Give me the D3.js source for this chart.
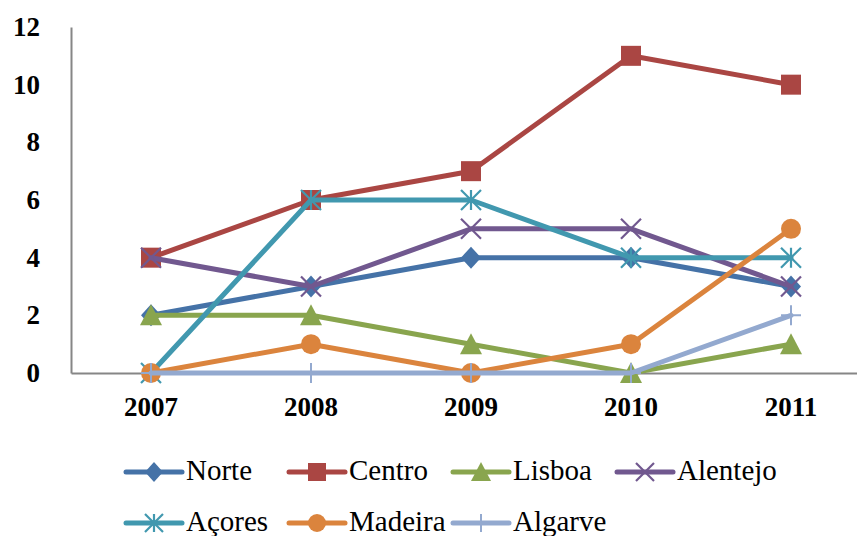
<!DOCTYPE html>
<html><head><meta charset="utf-8">
<script src="https://cdn.jsdelivr.net/npm/d3@7"></script>
<style>body{margin:0;background:#fff}svg{display:block}</style>
</head><body>
<svg id="c" width="857" height="536"></svg>
<script>
const years = ["2007","2008","2009","2010","2011"];
const seriesNames = ["Norte","Centro","Lisboa","Alentejo","Açores","Madeira","Algarve"];
const norte    = [2,3,4,4,3];
const centro   = [4,6,7,11,10];
const lisboa   = [2,2,1,0,1];
const alentejo = [4,3,5,5,3];
const acores   = [0,6,6,4,4];
const madeira  = [0,1,0,1,5];
const algarve  = [0,0,0,0,2];
const yTicks = [0,2,4,6,8,10,12];
const colors = ["#4572A7","#AA4643","#89A54E","#71588F","#4198AF","#DB843D","#93A9CF"];
const markers = ["diamond","square","triangle","x","asterisk","circle","plus"];

const series = [norte,centro,lisboa,alentejo,acores,madeira,algarve].map((v,i)=>({name:seriesNames[i],values:v,color:colors[i],marker:markers[i]}));

const FONT = "'Liberation Serif', 'Times New Roman', 'DejaVu Serif', serif";
const svg = d3.select("#c");
const mLeft = 71, mRight = 871, mTop = 27, mBottom = 373;
const x = d3.scaleBand().domain(years).range([mLeft,mRight]);
const y = d3.scaleLinear().domain([0,12]).range([mBottom,mTop]);
const cx = d => x(d) + x.bandwidth()/2;

// axes
const yAxis = svg.append("g").attr("transform",`translate(${mLeft},0)`).call(d3.axisLeft(y).tickValues(yTicks).tickSize(0).tickPadding(31));
yAxis.select(".domain").attr("stroke","#868686").attr("stroke-width",2);
yAxis.selectAll("text").attr("font-family",FONT).attr("font-weight","bold").attr("font-size",27).attr("fill","#000");

const xAxis = svg.append("g").attr("transform",`translate(0,${mBottom})`).call(d3.axisBottom(x).tickSize(0).tickPadding(24));
xAxis.select(".domain").attr("stroke","#868686").attr("stroke-width",2);
xAxis.selectAll("text").attr("font-family",FONT).attr("font-weight","bold").attr("font-size",27).attr("fill","#000");

function drawMarker(g, type, color, px, py, s){
  const h = s/2;
  if(type==="diamond"){
    g.append("path").attr("d",`M${px},${py-h-1}L${px+h},${py}L${px},${py+h+1}L${px-h},${py}Z`).attr("fill",color);
  } else if(type==="square"){
    g.append("rect").attr("x",px-h).attr("y",py-h).attr("width",s).attr("height",s).attr("fill",color);
  } else if(type==="triangle"){
    g.append("path").attr("d",`M${px},${py-h-1}L${px+h+1},${py+h}L${px-h-1},${py+h}Z`).attr("fill",color);
  } else if(type==="circle"){
    g.append("circle").attr("cx",px).attr("cy",py).attr("r",h).attr("fill",color);
  } else if(type==="x"){
    g.append("path").attr("d",`M${px-h},${py-h}L${px+h},${py+h}M${px-h},${py+h}L${px+h},${py-h}`).attr("stroke",color).attr("stroke-width",2.2).attr("fill","none");
  } else if(type==="asterisk"){
    g.append("path").attr("d",`M${px-h},${py-h}L${px+h},${py+h}M${px-h},${py+h}L${px+h},${py-h}M${px},${py-h}L${px},${py+h}`).attr("stroke",color).attr("stroke-width",2.2).attr("fill","none");
  } else if(type==="plus"){
    g.append("path").attr("d",`M${px-h},${py}L${px+h},${py}M${px},${py-h}L${px},${py+h}`).attr("stroke",color).attr("stroke-width",2).attr("fill","none");
  }
}

const line = d3.line().x((d,i)=>cx(years[i])).y(d=>y(d));
series.forEach(s=>{
  const g = svg.append("g");
  g.append("path").datum(s.values).attr("d",line).attr("fill","none").attr("stroke",s.color).attr("stroke-width",5).attr("stroke-linejoin","round").attr("stroke-linecap","round");
  s.values.forEach((v,i)=>drawMarker(g,s.marker,s.color,cx(years[i]),y(v),20));
});

// legend
const legX = [126,289,453,617];
const legY = [472,523];
series.forEach((s,i)=>{
  const lx = legX[i%4], ly = legY[Math.floor(i/4)];
  const g = svg.append("g");
  g.append("line").attr("x1",lx).attr("x2",lx+56).attr("y1",ly).attr("y2",ly).attr("stroke",s.color).attr("stroke-width",5).attr("stroke-linecap","round");
  drawMarker(g,s.marker,s.color,lx+28,ly,18);
  g.append("text").attr("x",lx+60).attr("y",ly+8).attr("font-family",FONT).attr("font-size",29).attr("fill","#000").text(s.name);
});
</script>
</body></html>
